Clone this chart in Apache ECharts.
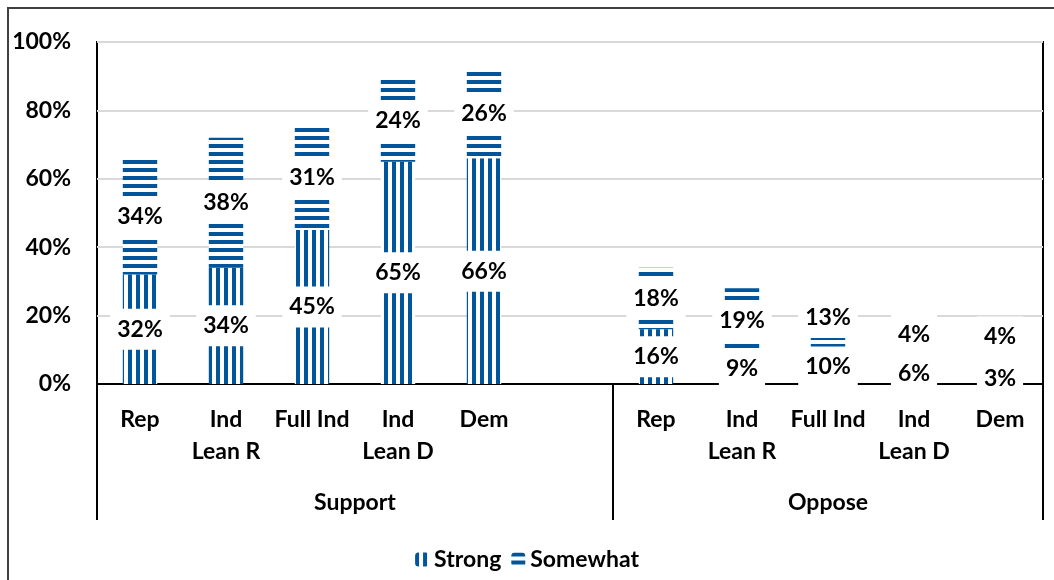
<!DOCTYPE html>
<html>
<head>
<meta charset="utf-8">
<script src="https://cdn.jsdelivr.net/npm/echarts@6/dist/echarts.min.js"></script>
<style>
  html, body { margin: 0; padding: 0; background: #fff; }
  #frame { position: absolute; left: 7px; top: 7px; width: 1200px; height: 700px; border: 2px solid #404040; }
  #chart { position: absolute; left: 0; top: 0; width: 1054px; height: 580px; }
</style>
</head>
<body>
<div id="frame"></div>
<div id="chart"></div>
<script>
const parties = ['Rep', 'Ind\nLean R', 'Full Ind', 'Ind\nLean D', 'Dem']
const groups = ['Support', 'Oppose']
const supportStrong = [32, 34, 45, 65, 66]
const supportSomewhat = [34, 38, 31, 24, 26]
const opposeStrong = [16, 9, 10, 6, 3]
const opposeSomewhat = [18, 19, 13, 4, 4]
const yTicks = [0, 20, 40, 60, 80, 100]

const blue = '#00559b'
const font = 'Lato, sans-serif'

// somewhat labels that were dragged up in the original to avoid overlap (category index -> px)
const labelShift = { 8: -10, 9: -22, 10: -30 }

// categories: support parties, one empty slot, oppose parties
const categories = parties.concat([''], parties)
const strong = supportStrong.concat([null], opposeStrong)
const somewhat = supportSomewhat.concat([null], opposeSomewhat)

function stripes(vertical) {
  const c = document.createElement('canvas')
  c.width = 8
  c.height = 8
  const ctx = c.getContext('2d')
  ctx.fillStyle = '#fff'
  ctx.fillRect(0, 0, 8, 8)
  ctx.fillStyle = blue
  if (vertical) {
    ctx.fillRect(0, 0, 4, 8)
  } else {
    ctx.fillRect(0, 0, 8, 4)
  }
  return { image: c, repeat: 'repeat' }
}

function withShift(values) {
  return values.map((v, i) => {
    if (labelShift[i] === undefined) return v
    return { value: v, label: { offset: [0, labelShift[i]] } }
  })
}

const labelStyle = {
  show: true,
  position: 'inside',
  formatter: '{c}%',
  color: '#000',
  fontFamily: font,
  fontWeight: 'bold',
  fontSize: 23,
  lineHeight: 25,
  backgroundColor: '#fff',
  padding: [8, 7]
}

const chart = echarts.init(document.getElementById('chart'))
chart.setOption({
  animation: false,
  textStyle: { fontFamily: font },
  grid: {
    left: 97,
    right: 11,
    top: 42,
    bottom: 196,
    show: true,
    borderColor: '#000',
    borderWidth: 2
  },
  legend: {
    data: ['Strong', 'Somewhat'],
    left: 'center',
    top: 543,
    itemWidth: 14,
    itemHeight: 14,
    itemGap: 10,
    textStyle: { color: '#000', fontFamily: font, fontWeight: 'bold', fontSize: 23 }
  },
  xAxis: [{
    type: 'category',
    data: categories,
    axisLine: { lineStyle: { color: '#000', width: 2 } },
    axisTick: { show: false },
    axisLabel: {
      interval: 0,
      margin: 20,
      color: '#000',
      fontFamily: font,
      fontWeight: 'bold',
      fontSize: 23,
      lineHeight: 32
    }
  }, {
    // second level of the category axis: group names and separators
    type: 'value',
    position: 'bottom',
    min: 0,
    max: categories.length,
    axisLine: { show: false },
    splitLine: { show: false },
    axisTick: {
      show: true,
      customValues: [0, parties.length + 1, categories.length],
      length: 136,
      lineStyle: { color: '#000', width: 2 }
    },
    axisLabel: {
      customValues: [(parties.length + 1) / 2, parties.length + 1 + parties.length / 2],
      formatter: v => (v < parties.length + 1 ? groups[0] : groups[1]),
      margin: 107,
      color: '#000',
      fontFamily: font,
      fontWeight: 'bold',
      fontSize: 23,
      lineHeight: 24
    }
  }],
  yAxis: {
    type: 'value',
    min: yTicks[0],
    max: yTicks[yTicks.length - 1],
    interval: yTicks[1] - yTicks[0],
    axisLine: { show: false },
    axisTick: { show: false },
    splitLine: { lineStyle: { color: '#d9d9d9', width: 2 } },
    axisLabel: {
      formatter: '{value}%',
      margin: 26,
      color: '#000',
      fontFamily: font,
      fontWeight: 'bold',
      fontSize: 23
    }
  },
  series: [{
    name: 'Strong',
    type: 'bar',
    stack: 'total',
    barWidth: '40%',
    itemStyle: { color: stripes(true) },
    label: labelStyle,
    data: strong
  }, {
    name: 'Somewhat',
    type: 'bar',
    stack: 'total',
    barWidth: '40%',
    itemStyle: { color: stripes(false) },
    label: labelStyle,
    data: withShift(somewhat)
  }]
})
</script>
</body>
</html>
